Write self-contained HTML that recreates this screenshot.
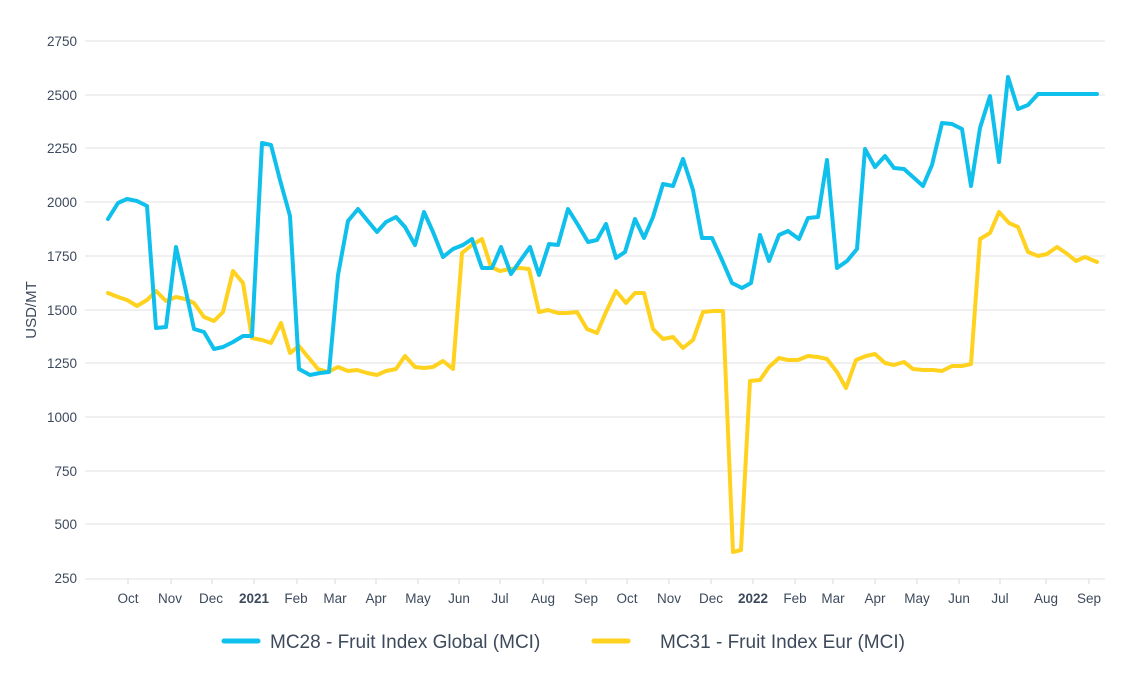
<!DOCTYPE html>
<html><head><meta charset="utf-8"><style>
html,body{margin:0;padding:0;background:#fff;}
svg{display:block;font-family:"Liberation Sans",sans-serif;}
</style></head><body>
<svg width="1140" height="678" viewBox="0 0 1140 678">
<g stroke="#e6e6e6" stroke-width="1.3">
<line x1="85" x2="1105" y1="41" y2="41"/><line x1="85" x2="1105" y1="95" y2="95"/>
<line x1="85" x2="1105" y1="148" y2="148"/><line x1="85" x2="1105" y1="202" y2="202"/>
<line x1="85" x2="1105" y1="256" y2="256"/><line x1="85" x2="1105" y1="310" y2="310"/>
<line x1="85" x2="1105" y1="363" y2="363"/><line x1="85" x2="1105" y1="417" y2="417"/>
<line x1="85" x2="1105" y1="471" y2="471"/><line x1="85" x2="1105" y1="524" y2="524"/>
<line x1="85" x2="1105" y1="579" y2="579"/>
</g>
<g stroke="#e0e0e0" stroke-width="1.3">
<line x1="128" x2="128" y1="579" y2="584"/><line x1="171" x2="171" y1="579" y2="584"/>
<line x1="212" x2="212" y1="579" y2="584"/><line x1="254" x2="254" y1="579" y2="584"/>
<line x1="297" x2="297" y1="579" y2="584"/><line x1="335" x2="335" y1="579" y2="584"/>
<line x1="376" x2="376" y1="579" y2="584"/><line x1="418" x2="418" y1="579" y2="584"/>
<line x1="459" x2="459" y1="579" y2="584"/><line x1="500" x2="500" y1="579" y2="584"/>
<line x1="543" x2="543" y1="579" y2="584"/><line x1="586" x2="586" y1="579" y2="584"/>
<line x1="627" x2="627" y1="579" y2="584"/><line x1="669" x2="669" y1="579" y2="584"/>
<line x1="711" x2="711" y1="579" y2="584"/><line x1="753" x2="753" y1="579" y2="584"/>
<line x1="795" x2="795" y1="579" y2="584"/><line x1="833" x2="833" y1="579" y2="584"/>
<line x1="875" x2="875" y1="579" y2="584"/><line x1="917" x2="917" y1="579" y2="584"/>
<line x1="959" x2="959" y1="579" y2="584"/><line x1="1000" x2="1000" y1="579" y2="584"/>
<line x1="1046" x2="1046" y1="579" y2="584"/><line x1="1089" x2="1089" y1="579" y2="584"/>
</g>
<g fill="#3d4a5c" font-size="13.5" text-anchor="end">
<text x="77" y="46">2750</text><text x="77" y="100">2500</text><text x="77" y="153">2250</text>
<text x="77" y="207">2000</text><text x="77" y="261">1750</text><text x="77" y="315">1500</text>
<text x="77" y="368">1250</text><text x="77" y="422">1000</text><text x="77" y="476">750</text>
<text x="77" y="529">500</text><text x="77" y="583">250</text>
</g>
<g fill="#3d4a5c" font-size="13.5" text-anchor="middle">
<text x="128" y="603">Oct</text><text x="170" y="603">Nov</text><text x="211" y="603">Dec</text>
<text x="254" y="603" font-weight="bold">2021</text><text x="296" y="603">Feb</text><text x="335" y="603">Mar</text>
<text x="376" y="603">Apr</text><text x="418" y="603">May</text><text x="459" y="603">Jun</text>
<text x="500" y="603">Jul</text><text x="543" y="603">Aug</text><text x="586" y="603">Sep</text>
<text x="627" y="603">Oct</text><text x="669" y="603">Nov</text><text x="711" y="603">Dec</text>
<text x="753" y="603" font-weight="bold">2022</text><text x="795" y="603">Feb</text><text x="833" y="603">Mar</text>
<text x="875" y="603">Apr</text><text x="917" y="603">May</text><text x="959" y="603">Jun</text>
<text x="1000" y="603">Jul</text><text x="1046" y="603">Aug</text><text x="1089" y="603">Sep</text>
</g>
<text x="36" y="310" fill="#3d4a5c" font-size="15" text-anchor="middle" transform="rotate(-90 36 310)">USD/MT</text>
<polyline fill="none" stroke="#ffd21f" stroke-width="4" stroke-linejoin="round" stroke-linecap="round" points="108,293 118,297 127,300 137,306 147,300 156,291 166,301 176,297 185,299 194,303 204,317 214,321 223,312 233,271 243,283 252,338 262,340 271,343 281,323 290,353 299,346 308,357 318,369 328,372 338,367 348,371 357,370 367,373 377,375 386,371 396,369 405,356 415,367 424,368 433,367 443,361 453,369 462,253 472,245 482,239 491,267 500,271 510,269 520,268 529,269 539,312 548,310 558,313 568,313 577,312 587,329 597,333 606,312 616,291 626,303 635,293 644,293 653,329 663,339 673,337 683,348 693,340 703,312 713,311 723,311 733,552 741,550 750,381 760,380 769,367 779,358 788,360 798,360 808,356 818,357 827,359 837,372 846,388 856,360 866,356 875,354 885,363 894,365 904,362 913,369 923,370 933,370 942,371 952,366 962,366 971,364 980,239 990,233 999,212 1009,223 1018,227 1028,252 1038,256 1047,254 1057,247 1066,253 1076,261 1085,257 1097,262"/>
<polyline fill="none" stroke="#0fbfec" stroke-width="4" stroke-linejoin="round" stroke-linecap="round" points="108,219 118,203 127,199 137,201 147,206 156,328 166,327 176,247 185,287 194,329 204,332 214,349 223,347 233,342 243,336 252,336 262,143 271,145 280,180 290,216 299,369 310,375 320,373 329,372 338,275 348,221 358,209 367,220 377,232 386,222 396,217 405,227 415,245 424,212 433,232 443,257 453,249 463,245 472,239 482,268 492,268 501,247 511,274 520,261 530,247 539,275 549,244 558,245 568,209 578,225 588,242 597,240 606,224 616,258 625,252 635,219 644,238 653,217 663,184 673,186 683,159 693,190 702,238 712,238 722,260 732,283 742,288 751,283 760,235 769,261 779,235 788,231 799,239 808,218 818,217 827,160 837,268 847,261 857,249 865,149 875,167 885,156 894,168 904,169 913,177 923,186 932,165 942,123 952,124 962,129 971,186 980,128 990,96 999,162 1008,77 1018,109 1028,105 1038,94 1097,94"/>
<line x1="224" x2="258" y1="641" y2="641" stroke="#0fbfec" stroke-width="5" stroke-linecap="round"/>
<text x="270" y="648" fill="#3d4a5c" font-size="19">MC28 - Fruit Index Global (MCI)</text>
<line x1="594" x2="628" y1="641" y2="641" stroke="#ffd21f" stroke-width="5" stroke-linecap="round"/>
<text x="660" y="648" fill="#3d4a5c" font-size="19">MC31 - Fruit Index Eur (MCI)</text>
</svg>
</body></html>
